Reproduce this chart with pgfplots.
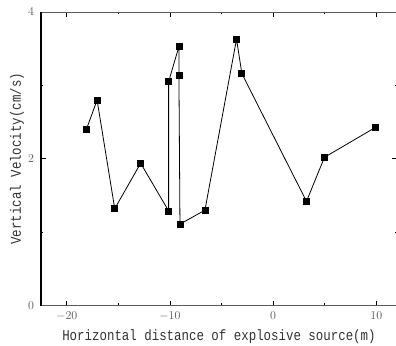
\documentclass[border=0pt]{standalone}
\usepackage{pgfplots}
\pgfplotsset{compat=1.18}
\usepackage{fontspec}
\setmainfont{Liberation Serif}
\newfontfamily\labfont[FakeStretch=0.83]{Liberation Mono}
\usetikzlibrary{calc}
\definecolor{spine}{RGB}{90,90,90}
\definecolor{ticktext}{RGB}{85,85,85}
\definecolor{labtext}{RGB}{50,50,50}
\begin{document}
\begin{tikzpicture}
\begin{axis}[
  name=ax,
  scale only axis,
  width=356.5pt, height=294pt,
  xmin=-22.5, xmax=12,
  ymin=0, ymax=4,
  xtick={-20,-10,0,10},
  ytick={0,2,4},
  minor x tick num=1,
  minor y tick num=1,
  tick align=inside,
  major tick length=5pt,
  minor tick length=2.5pt,
  tick style={black, line width=0.8pt},
  axis line style={spine, line width=0.8pt},
  tick label style={font=\fontsize{12.5}{13}\selectfont, text=ticktext},
  xticklabel style={yshift=-2.5pt},
  yticklabel style={xshift=-3.5pt},
  xlabel={Horizontal distance of explosive source(m)},
  ylabel={Vertical Velocity(cm/s)},
  label style={font=\labfont\fontsize{15}{16}\selectfont, text=labtext},
  xlabel style={at={(axis description cs:0.5,-0.105)}, anchor=center},
  ylabel style={at={(axis description cs:-0.0673,0.5)}, anchor=center, rotate=0},
]
\addplot[black, line width=0.8pt, mark=square*, mark size=3pt, mark options={fill=black}] coordinates {
  (-18.1,2.40)
  (-17.06,2.80)
  (-15.35,1.32)
  (-12.84,1.94)
  (-10.13,1.29)
  (-10.13,3.05)
  (-9.13,3.53)
  (-9.13,3.13)
  (-9.03,1.11)
  (-6.61,1.30)
  (-3.55,3.63)
  (-3.03,3.16)
  (3.23,1.42)
  (4.97,2.02)
  (9.94,2.43)
};
\end{axis}
\draw[black, line width=1.3pt] (ax.south west) -- (ax.north west);
\pgfresetboundingbox
\path ($(ax.south west)+(-41pt,-40pt)$) rectangle ($(ax.north east)+(-1pt,12pt)$);
\end{tikzpicture}
\end{document}
